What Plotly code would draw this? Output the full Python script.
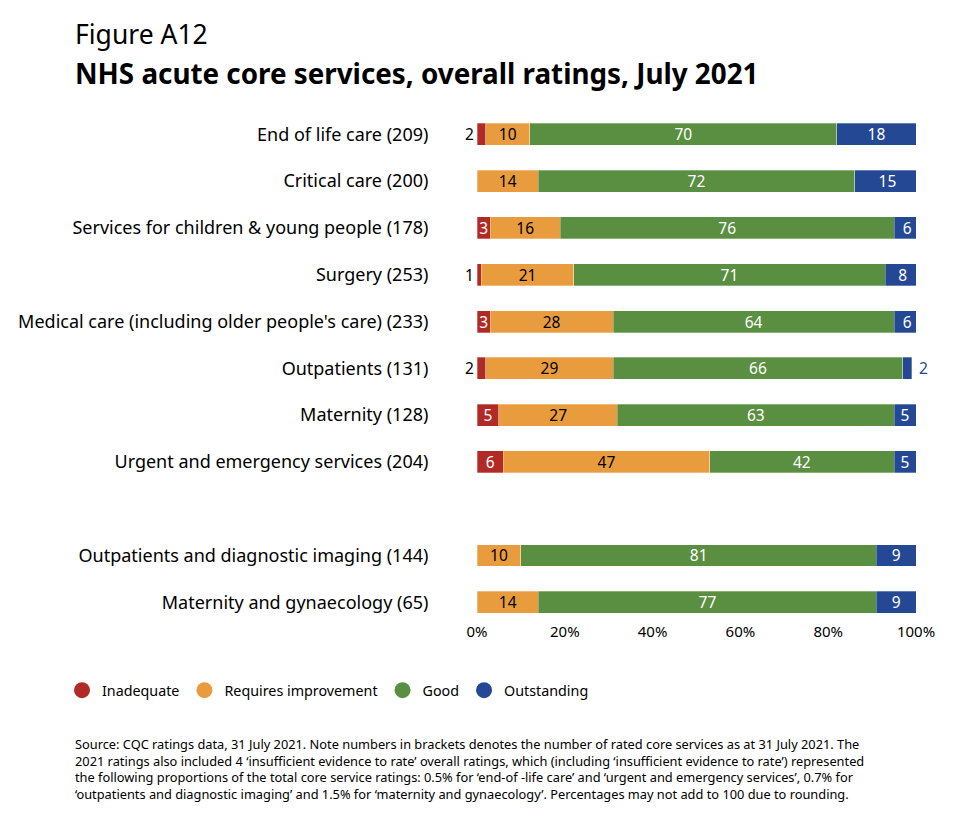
import plotly.graph_objects as go

categories = [
    "End of life care (209)",
    "Critical care (200)",
    "Services for children & young people (178)",
    "Surgery (253)",
    "Medical care (including older people's care) (233)",
    "Outpatients (131)",
    "Maternity (128)",
    "Urgent and emergency services (204)",
    "Outpatients and diagnostic imaging (144)",
    "Maternity and gynaecology (65)",
]
inadequate = [2, 0, 3, 1, 3, 2, 5, 6, 0, 0]
requires_improvement = [10, 14, 16, 21, 28, 29, 27, 47, 10, 14]
good = [70, 72, 76, 71, 64, 66, 63, 42, 81, 77]
outstanding = [18, 15, 6, 8, 6, 2, 5, 5, 9, 9]
series_names = ["Inadequate", "Requires improvement", "Good", "Outstanding"]
x_ticks = [0, 20, 40, 60, 80, 100]
x_tick_labels = ["0%", "20%", "40%", "60%", "80%", "100%"]
footnote_lines = [
    "Source: CQC ratings data, 31 July 2021. Note numbers in brackets denotes the number of rated core services as at 31 July 2021. The",
    "2021 ratings also included 4 ‘insufficient evidence to rate’ overall ratings, which (including ‘insufficient evidence to rate’) represented",
    "the following proportions of the total core service ratings: 0.5% for ‘end-of -life care’ and ‘urgent and emergency services’, 0.7% for",
    "‘outpatients and diagnostic imaging’ and 1.5% for ‘maternity and gynaecology’. Percentages may not add to 100 due to rounding.",
]

colors = ["#B22A25", "#E99C3E", "#5A8E40", "#244894"]
text_colors = ["white", "black", "white", "white"]
FONT = "Noto Sans"

# row slots: a blank slot separates the last two categories
rows = [0, 1, 2, 3, 4, 5, 6, 7, 9, 10]

OFF = 8  # page body margin
W, H = 960 - OFF, 816 - OFF
L, R, T, B = 477 - OFF, 44, 110.5 - OFF, 194.5
PW = W - L - R
PH = H - T - B


def px_x(p):
    return (p - OFF - L) / PW


def px_y(p):
    return 1 - (p - OFF - T) / PH


fig = go.Figure()
all_series = [inadequate, requires_improvement, good, outstanding]
for name, vals, col, tcol in zip(series_names, all_series, colors, text_colors):
    # small values (<3) are labelled outside the bar
    txt = [str(v) if v >= 3 else "" for v in vals]
    fig.add_trace(go.Bar(
        x=vals, y=rows, orientation="h", name=name,
        marker=dict(color=col, line=dict(color="rgba(255,255,255,0.6)", width=0.5)),
        width=0.47, text=txt, textposition="inside", insidetextanchor="middle",
        textangle=0, constraintext="none",
        textfont=dict(family=FONT, size=15.5, color=tcol),
        showlegend=False, hoverinfo="x+name",
    ))
    fig.add_trace(go.Scatter(
        x=[None], y=[None], mode="markers", name=name,
        marker=dict(color=col, size=18, symbol="circle"),
        showlegend=True,
    ))

annotations = []
# outside labels for small values
for r, v in zip(rows, inadequate):
    if 0 < v < 3:
        annotations.append(dict(x=0, y=r, xref="x", yref="y", text=str(v), showarrow=False,
                                xanchor="right", xshift=-1,
                                font=dict(family=FONT, size=15.5, color="black")))
for r, v in zip(rows, outstanding):
    if 0 < v < 3:
        annotations.append(dict(x=100, y=r, xref="x", yref="y", text=str(v), showarrow=False,
                                xanchor="left", xshift=1,
                                font=dict(family=FONT, size=15.5, color=colors[3])))

annotations += [
    dict(x=px_x(73), y=px_y(33), xref="paper", yref="paper", text="Figure A12",
         showarrow=False, xanchor="left", yanchor="middle",
         font=dict(family=FONT, size=26.5, color="black")),
    dict(x=px_x(73), y=px_y(72), xref="paper", yref="paper",
         text="<b>NHS acute core services, overall ratings, July 2021</b>",
         showarrow=False, xanchor="left", yanchor="middle",
         font=dict(family=FONT, size=27.8, color="black")),
    dict(x=px_x(73), y=px_y(734), xref="paper", yref="paper",
         text="<br>".join(footnote_lines), showarrow=False,
         xanchor="left", yanchor="top", align="left",
         font=dict(family=FONT, size=12.8, color="black")),
]

fig.update_layout(
    width=W, height=H,
    margin=dict(l=L, r=R, t=T, b=B, autoexpand=False),
    barmode="stack",
    plot_bgcolor="white", paper_bgcolor="white",
    font=dict(family=FONT, size=16, color="black"),
    annotations=annotations,
    legend=dict(orientation="h", x=px_x(62), y=px_y(691), xanchor="left", yanchor="middle",
                font=dict(family=FONT, size=14.3, color="black"), itemclick=False,
                traceorder="normal", tracegroupgap=0),
    xaxis=dict(range=[0, 100], tickvals=x_ticks, ticktext=x_tick_labels,
               showgrid=False, zeroline=False, showline=False,
               tickfont=dict(family=FONT, size=15, color="black"),
               ticks="", fixedrange=True, automargin=False),
    yaxis=dict(range=[10.4, -0.5], tickvals=rows, ticktext=categories,
               showgrid=False, zeroline=False, showline=False,
               tickfont=dict(family=FONT, size=18, color="black"),
               ticks="outside", ticklen=44, tickcolor="rgba(0,0,0,0)", fixedrange=True,
               automargin=False),
)

fig.write_html("out.html")
